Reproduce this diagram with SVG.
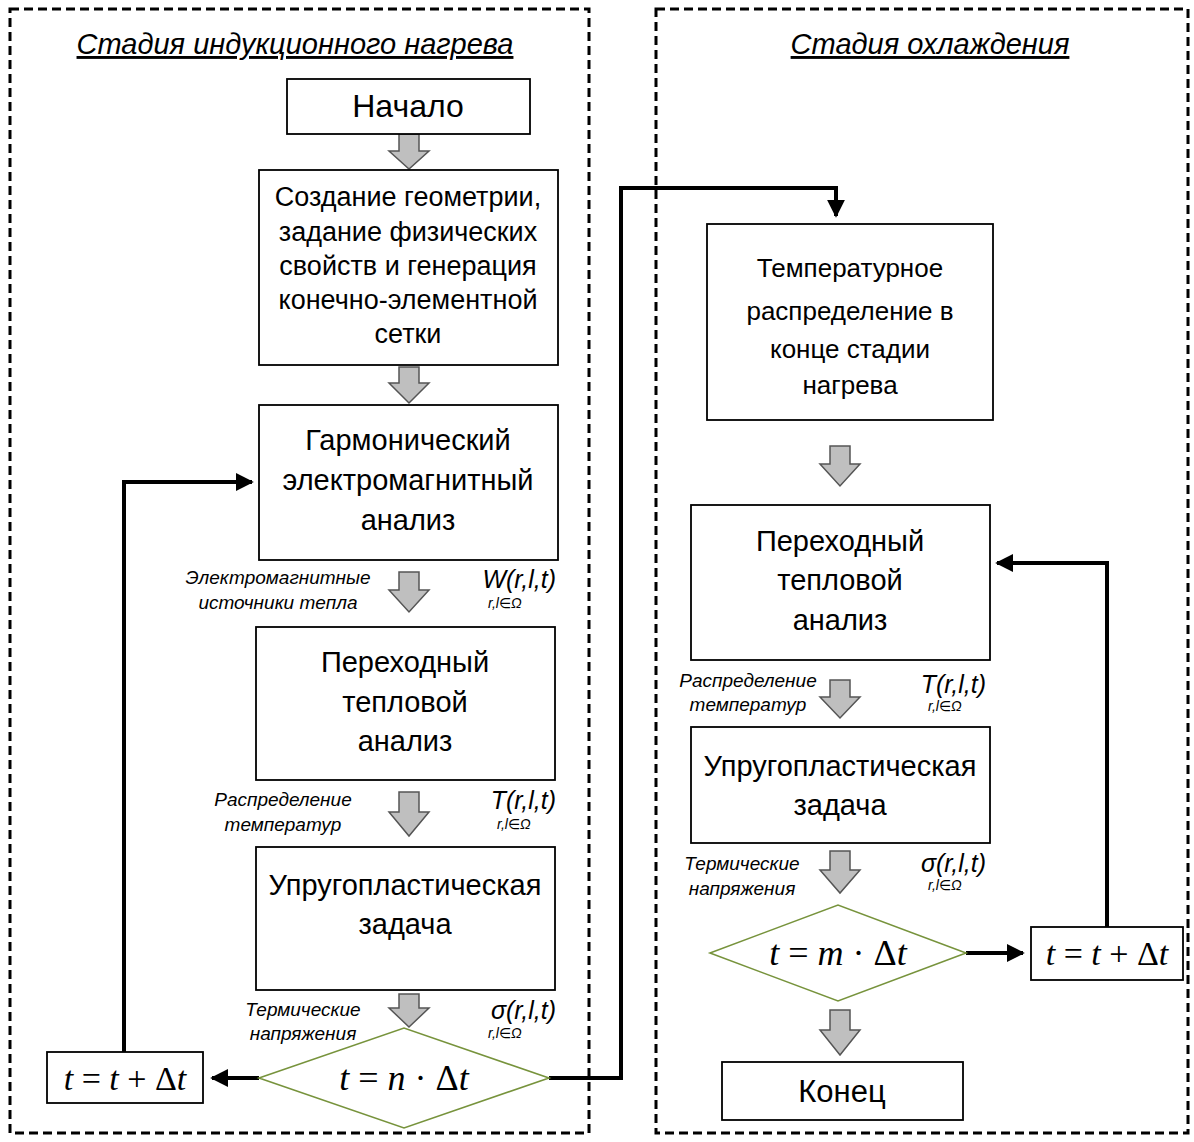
<svg xmlns="http://www.w3.org/2000/svg" width="1194" height="1142" viewBox="0 0 1194 1142">
<style>
.frame{fill:none;stroke:#000;stroke-width:3;stroke-dasharray:9,5}
.box{fill:#fff;stroke:#000;stroke-width:1.8}
.dia{fill:#fff;stroke:#77933c;stroke-width:1.6}
.garr{fill:#bfbfbf;stroke:#555;stroke-width:1.5}
.conn{fill:none;stroke:#000;stroke-width:4}
.t{font-family:"Liberation Sans","DejaVu Sans",sans-serif;font-size:29px;fill:#000;text-anchor:middle}
.title{font-family:"Liberation Sans","DejaVu Sans",sans-serif;font-size:29px;font-style:italic;text-decoration:underline;text-anchor:middle}
.lab{font-family:"Liberation Sans","DejaVu Sans",sans-serif;font-size:19px;font-style:italic;fill:#000;text-anchor:middle}
.fn{font-family:"Liberation Sans","DejaVu Sans",sans-serif;font-size:25px;font-style:italic;fill:#000;text-anchor:end}
.sub{font-family:"Liberation Sans","DejaVu Sans",sans-serif;font-size:14px;font-style:italic;fill:#000}
.m{font-family:"Liberation Serif","DejaVu Serif",serif;font-size:36px;fill:#000;text-anchor:middle}
</style>
<defs>
<marker id="ah" viewBox="0 0 10 10" refX="9" refY="5" markerWidth="4.5" markerHeight="4.5" orient="auto" markerUnits="strokeWidth">
<path d="M0,0 L10,5 L0,10 Z" fill="#000"/>
</marker>
</defs>

<g id="frame-heating">
<rect class="frame" x="10" y="9" width="579" height="1124"/>
<text class="title" x="295" y="54">Стадия индукционного нагрева</text>
</g>
<g id="frame-cooling">
<rect class="frame" x="656" y="9" width="532" height="1124"/>
<text class="title" x="930" y="54">Стадия охлаждения</text>
</g>

<g id="connectors">
<path class="conn" d="M124,1052 V482 H252" marker-end="url(#ah)"/>
<path class="conn" d="M259,1078 H212" marker-end="url(#ah)"/>
<path class="conn" d="M549,1078 H621 V188 H836 V216" marker-end="url(#ah)"/>
<path class="conn" d="M966,953 H1023" marker-end="url(#ah)"/>
<path class="conn" d="M1107,927 V563 H997" marker-end="url(#ah)"/>
<path class="garr" d="M399,134 H419 V151 H429 L409,169 L389,151 H399 Z"/>
<path class="garr" d="M399,367 H419 V383 H429 L409,403 L389,383 H399 Z"/>
<path class="garr" d="M399,572 H419 V590 H429 L409,612 L389,590 H399 Z"/>
<path class="garr" d="M399,792 H419 V812 H429 L409,836 L389,812 H399 Z"/>
<path class="garr" d="M399,994 H419 V1008 H429 L409,1027 L389,1008 H399 Z"/>
<path class="garr" d="M830,446 H850 V464 H860 L840,486 L820,464 H830 Z"/>
<path class="garr" d="M830,680 H850 V697 H860 L840,718 L820,697 H830 Z"/>
<path class="garr" d="M830,851 H850 V870 H860 L840,893 L820,870 H830 Z"/>
<path class="garr" d="M830,1010 H850 V1030 H860 L840,1055 L820,1030 H830 Z"/>
</g>

<g id="n-start">
<rect class="box" x="287" y="79" width="243" height="55"/>
<text class="t" x="408" y="117" style="font-size:32px">Начало</text>
</g>
<g id="n-geometry">
<rect class="box" x="259" y="170" width="299" height="195"/>
<text class="t" x="408" y="206" style="font-size:27px">Создание геометрии,</text>
<text class="t" x="408" y="241" style="font-size:27px">задание физических</text>
<text class="t" x="408" y="275" style="font-size:27px">свойств и генерация</text>
<text class="t" x="408" y="309" style="font-size:27px">конечно-элементной</text>
<text class="t" x="408" y="343" style="font-size:27px">сетки</text>
</g>
<g id="n-em">
<rect class="box" x="259" y="405" width="299" height="155"/>
<text class="t" x="408" y="450">Гармонический</text>
<text class="t" x="408" y="490">электромагнитный</text>
<text class="t" x="408" y="530">анализ</text>
</g>
<g id="l-em">
<text class="lab" x="278" y="584">Электромагнитные</text>
<text class="lab" x="278" y="609">источники тепла</text>
<text class="fn" x="556" y="588">W(r,l,t)</text>
<text class="sub" x="488" y="608">r,l∈Ω</text>
</g>
<g id="n-thermal1">
<rect class="box" x="256" y="627" width="299" height="153"/>
<text class="t" x="405" y="672">Переходный</text>
<text class="t" x="405" y="712">тепловой</text>
<text class="t" x="405" y="751">анализ</text>
</g>
<g id="l-t1">
<text class="lab" x="283" y="806">Распределение</text>
<text class="lab" x="283" y="831">температур</text>
<text class="fn" x="556" y="809">T(r,l,t)</text>
<text class="sub" x="497" y="829">r,l∈Ω</text>
</g>
<g id="n-elastic1">
<rect class="box" x="256" y="847" width="299" height="143"/>
<text class="t" x="405" y="895">Упругопластическая</text>
<text class="t" x="405" y="934">задача</text>
</g>
<g id="l-s1">
<text class="lab" x="303" y="1016">Термические</text>
<text class="lab" x="303" y="1040">напряжения</text>
<text class="fn" x="556" y="1019">σ(r,l,t)</text>
<text class="sub" x="488" y="1038">r,l∈Ω</text>
</g>
<g id="n-cond1">
<polygon class="dia" points="259,1078 404,1028 549,1078 404,1128"/>
<text class="m" x="404" y="1090"><tspan font-style="italic">t</tspan> = <tspan font-style="italic">n</tspan> · Δ<tspan font-style="italic">t</tspan></text>
</g>
<g id="n-inc1">
<rect class="box" x="47" y="1052" width="156" height="51"/>
<text class="m" x="125" y="1090" style="font-size:34px"><tspan font-style="italic">t</tspan> = <tspan font-style="italic">t</tspan> + Δ<tspan font-style="italic">t</tspan></text>
</g>

<g id="n-tempdist">
<rect class="box" x="707" y="224" width="286" height="196"/>
<text class="t" x="850" y="277" style="font-size:26px">Температурное</text>
<text class="t" x="850" y="320" style="font-size:26px">распределение в</text>
<text class="t" x="850" y="358" style="font-size:26px">конце стадии</text>
<text class="t" x="850" y="394" style="font-size:26px">нагрева</text>
</g>
<g id="n-thermal2">
<rect class="box" x="691" y="505" width="299" height="155"/>
<text class="t" x="840" y="551">Переходный</text>
<text class="t" x="840" y="590">тепловой</text>
<text class="t" x="840" y="630">анализ</text>
</g>
<g id="l-t2">
<text class="lab" x="748" y="687">Распределение</text>
<text class="lab" x="748" y="711">температур</text>
<text class="fn" x="986" y="693">T(r,l,t)</text>
<text class="sub" x="928" y="711">r,l∈Ω</text>
</g>
<g id="n-elastic2">
<rect class="box" x="691" y="727" width="299" height="116"/>
<text class="t" x="840" y="776">Упругопластическая</text>
<text class="t" x="840" y="815">задача</text>
</g>
<g id="l-s2">
<text class="lab" x="742" y="870">Термические</text>
<text class="lab" x="742" y="895">напряжения</text>
<text class="fn" x="986" y="872">σ(r,l,t)</text>
<text class="sub" x="928" y="890">r,l∈Ω</text>
</g>
<g id="n-cond2">
<polygon class="dia" points="710,953 838,905 966,953 838,1001"/>
<text class="m" x="838" y="965"><tspan font-style="italic">t</tspan> = <tspan font-style="italic">m</tspan> · Δ<tspan font-style="italic">t</tspan></text>
</g>
<g id="n-inc2">
<rect class="box" x="1031" y="927" width="152" height="53"/>
<text class="m" x="1107" y="965" style="font-size:34px"><tspan font-style="italic">t</tspan> = <tspan font-style="italic">t</tspan> + Δ<tspan font-style="italic">t</tspan></text>
</g>
<g id="n-end">
<rect class="box" x="722" y="1062" width="241" height="58"/>
<text class="t" x="842" y="1102" style="font-size:31px">Конец</text>
</g>
</svg>
